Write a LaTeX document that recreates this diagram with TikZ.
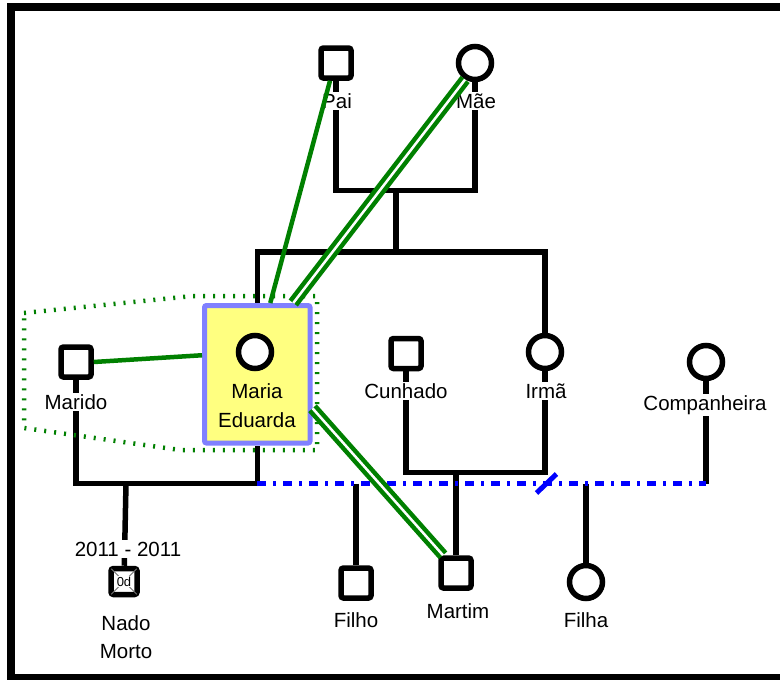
\documentclass[tikz,border=0pt]{standalone}
\usepackage{fontspec}
\setmainfont{Liberation Sans}
\usetikzlibrary{backgrounds,calc}
\definecolor{gr}{RGB}{0,128,0}
\definecolor{bl}{RGB}{0,0,255}
\definecolor{yel}{RGB}{255,255,128}
\definecolor{lav}{RGB}{128,128,255}
\begin{document}
\begin{tikzpicture}[x=1pt,y=-1pt,
  sq/.style={draw=black, fill=white, line width=5.5pt, rounded corners=2.5pt, minimum size=30pt, inner sep=0pt, shape=rectangle},
  ci/.style={draw=black, fill=white, line width=5.5pt, circle, minimum size=33pt, inner sep=0pt},
  lbl/.style={font=\fontsize{20.5}{24}\selectfont, fill=white, inner sep=1.5pt, anchor=base},
  lblin/.style={font=\fontsize{20.5}{24}\selectfont, inner sep=0pt, anchor=base},
  rel/.style={line width=5.5pt, black},
  emo/.style={gr, line width=4.5pt},
  emotwo/.style={draw=gr, line width=4.5pt, double=white, double distance=2.5pt},
  blu/.style={bl, line width=4.5pt, dash pattern=on 9pt off 7pt on 3pt off 7pt},
  dotgrp/.style={gr, line width=4.5pt, dash pattern=on 2pt off 8pt},
  focus/.style={draw=lav, fill=yel, line width=5pt, rounded corners=2pt, minimum width=105.5pt, minimum height=137.5pt, inner sep=0pt}
]
\useasboundingbox (0,0) rectangle (780,680);

% persons
\node[sq] (pai) at (336,63) {};
\node[ci] (mae) at (475,63) {};
\node[sq] (marido) at (76,362) {};
\node[focus] (me) at (257.25,374.25) {};
\node[ci] (mec) at (255,352) {};
\node[sq] (cunhado) at (406,353.5) {};
\node[ci] (irma) at (545,352) {};
\node[ci] (comp) at (706,362) {};
\node[sq] (martim) at (456,573) {};
\node[sq] (filho) at (356,583) {};
\node[ci] (filha) at (586,582) {};
\node[sq, minimum size=26pt] (nado) at (124,581.5) {};
\draw[black!55, line width=0.8pt] ([shift={(3pt,-3pt)}]nado.north west) -- ([shift={(-3pt,3pt)}]nado.south east);
\draw[black!55, line width=0.8pt] ([shift={(-3pt,-3pt)}]nado.north east) -- ([shift={(3pt,3pt)}]nado.south west);
\node[fill=white, inner sep=0.8pt, font=\fontsize{13}{13}\selectfont] (nadoage) at (nado) {0d};

% labels
\node[lbl] (lpai) at (337,108) {Pai};
\node[lbl] (lmae) at (476,108) {Mãe};
\node[lbl] (lmarido) at (76,409) {Marido};
\node[lblin] (lme1) at (257,398) {Maria};
\node[lblin] (lme2) at (257,427) {Eduarda};
\node[lbl] (lcun) at (406,398) {Cunhado};
\node[lbl] (lirma) at (546,398) {Irmã};
\node[lbl] (lcomp) at (705,410) {Companheira};
\node[lbl] (lyears) at (128,556) {2011 - 2011};
\node[lbl] (lnado) at (126,630) {Nado};
\node[lbl] (lmorto) at (126,658) {Morto};
\node[lbl] (lfilho) at (356,627) {Filho};
\node[lbl] (lmartim) at (458,618) {Martim};
\node[lbl] (lfilha) at (586,627) {Filha};

% junction points
\coordinate (pm) at (396,190.5);
\coordinate (sib) at (396,252);
\coordinate (mm) at (257.25,483.5);
\coordinate (nm) at (126,483.5);
\coordinate (cc) at (456,472.5);
\coordinate (bc) at (706,483.5);
\coordinate (fo) at (356,483.5);
\coordinate (fa) at (586,483.5);
\coordinate (cut) at (546.5,483.5);

\begin{scope}[on background layer]
  \fill[white] (0,0) rectangle (780,680);
  \draw[rel] (pai) |- (pm) -| (mae);
  \draw[rel] (pm) -- (sib);
  \draw[rel] (me.north) |- (sib) -| (irma);
  \draw[rel] (marido) |- (mm) -- (me.south);
  \draw[rel] (nm) -- (nado);
  \draw[rel] (cunhado) |- (cc) -| (irma);
  \draw[rel] (cc) -- (martim);
  \draw[rel] (comp) -- (bc);
  \draw[rel] (fo) -- (filho);
  \draw[rel] (fa) -- (filha);
  \draw[blu] (mm) -- (bc);
  \draw[bl, line width=5pt] ([shift={(-10pt,-9.5pt)}]cut) -- ([shift={(10pt,9.5pt)}]cut);
  \draw[dotgrp] (24,313) -- (193,296) -- (317,296) -- (317,450) -- (180,450) -- (24,428) -- cycle;
\end{scope}

% emotional relations
\draw[emo] ([xshift=-6pt]pai.south) -- ([xshift=13pt]me.north);
\draw[emotwo] (mae.239) -- ([xshift=36pt]me.north);
\draw[emo] (marido.east) -- ([yshift=19pt]me.west);
\draw[emotwo] ([yshift=-34pt]me.east) -- ([xshift=-13pt]martim.north);

% frame
\fill[black] (7,3) rectangle (780,11);
\fill[black] (7,3) rectangle (15,680);
\fill[black] (7,674) rectangle (780,680);
\end{tikzpicture}
\end{document}
